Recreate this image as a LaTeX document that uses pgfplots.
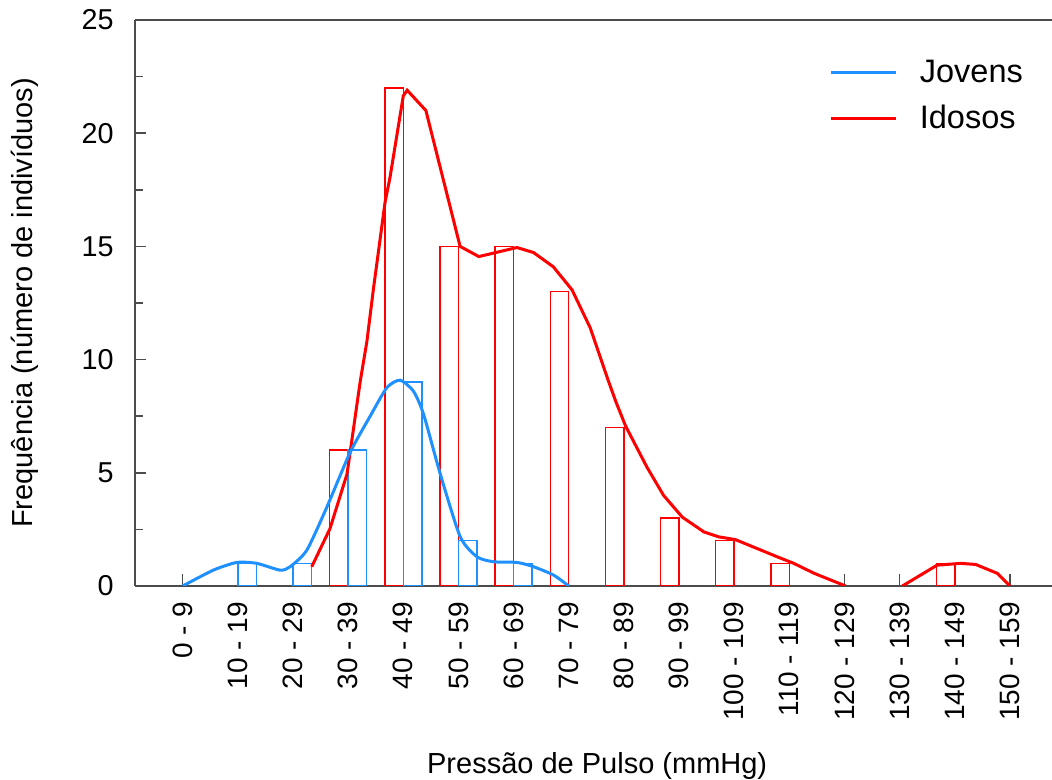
\documentclass[border=0pt]{standalone}
\usepackage{fontspec}
\setmainfont{Liberation Sans}
\usepackage{pgfplots}
\pgfplotsset{compat=1.18}
\usetikzlibrary{calc}
\definecolor{jovens}{RGB}{30,144,255}
\definecolor{idosos}{RGB}{255,0,0}

\begin{document}
\begin{tikzpicture}
\begin{axis}[
    name=ax,
    scale only axis, width=366.8pt, height=226.4pt,
    xmin=-0.865, xmax=15.763, ymin=0, ymax=25,
    axis x line*=box, axis y line*=left,
    axis line style={draw=black!70, line width=0.6pt},
    tick align=inside, xtick pos=bottom, ytick pos=left,
    tick style={draw=black!70, line width=0.6pt},
    major tick length=4.6pt, minor tick length=3.2pt,
    xtick={0,...,15},
    xticklabels={0 - 9, 10 - 19, 20 - 29, 30 - 39, 40 - 49, 50 - 59, 60 - 69, 70 - 79,
                 80 - 89, 90 - 99, 100 - 109, 110 - 119, 120 - 129, 130 - 139, 140 - 149, 150 - 159},
    xticklabel style={rotate=90, anchor=east, font=\fontsize{11.2}{13}\selectfont},
    xticklabel shift=3pt,
    ytick={0,5,...,25}, minor y tick num=1,
    yticklabel style={font=\fontsize{11.5}{14}\selectfont, xshift=-5pt},
    /pgf/number format/assume math mode=true,
    xlabel={Pressão de Pulso (mmHg)},
    ylabel={Frequência (número de indivíduos)},
    xlabel style={at={(axis description cs:0.504,-0.318)}, anchor=center, font=\fontsize{11.6}{14}\selectfont},
    ylabel style={at={(axis description cs:-0.12,0.5)}, anchor=center, rotate=0, font=\fontsize{11.6}{14}\selectfont},
    legend style={draw=none, fill=none, at={(axis description cs:0.7485,0.948)}, anchor=north west,
                  font=\fontsize{13}{15}\selectfont, row sep=3.5pt,
                  /tikz/every odd column/.append style={column sep=7pt}},
    legend cell align=left,
    legend image code/.code={\draw[#1] (0pt,0pt) -- (26pt,0pt);},
    reverse legend,
]
% bars: Idosos (left of tick), Jovens (right of tick)
\addplot[ybar, bar width=0.335, bar shift=-0.1675, draw=idosos, line width=0.6pt, fill=none, forget plot]
  coordinates {(3,6) (4,22) (5,15) (6,15) (7,13) (8,7) (9,3) (10,2) (11,1) (14,1)};
\addplot[ybar, bar width=0.335, bar shift=0.1675, draw=jovens, line width=0.6pt, fill=none, forget plot]
  coordinates {(1,1) (2,1) (3,6) (4,9) (5,2) (6,1)};

% curves
\addplot[idosos, line width=1.2pt, forget plot]
  coordinates {(13.05,0) (13.68,0.92) (14.11,1.0) (14.38,0.95) (14.77,0.56) (15.0,0)};
\addplot[idosos, line width=1.2pt]
  coordinates {(2.34,0.85) (2.67,2.53) (2.98,4.95) (3.22,9.05) (3.34,10.8) (3.46,13.15)
    (3.67,16.96) (3.76,18.06) (4.00,21.65) (4.07,21.9) (4.41,21.0) (5.03,15.0) (5.37,14.55)
    (6.06,14.95) (6.36,14.73) (6.72,14.1) (7.06,13.08) (7.39,11.4) (7.72,9.05) (7.85,8.17)
    (8.03,7.07) (8.42,5.24) (8.72,4.0) (9.06,3.04) (9.45,2.39) (9.72,2.17) (10.02,2.05)
    (10.78,1.29) (11.08,1.0) (11.45,0.56) (12.02,0.0)};
\addlegendentry{Idosos}
\addplot[jovens, line width=1.2pt, smooth, tension=0.4]
  coordinates {(0,0) (0.555,0.7) (0.98,1.04) (1.343,1.0) (1.766,0.7) (1.947,0.85) (2.25,1.58)
    (2.613,3.48) (3.036,5.9) (3.399,7.5) (3.702,8.76) (3.943,9.09) (4.185,8.6) (4.367,7.59)
    (4.67,4.95) (5.033,2.17) (5.336,1.29) (5.637,1.07) (6.062,1.04) (6.363,0.85) (6.726,0.48) (7.0,0)};
\addlegendentry{Jovens}
\end{axis}
\pgfresetboundingbox
\path[use as bounding box] ($(ax.south west)+(-54pt,-77.6pt)$) rectangle ++(420.8pt,312pt);
\end{tikzpicture}
\end{document}
